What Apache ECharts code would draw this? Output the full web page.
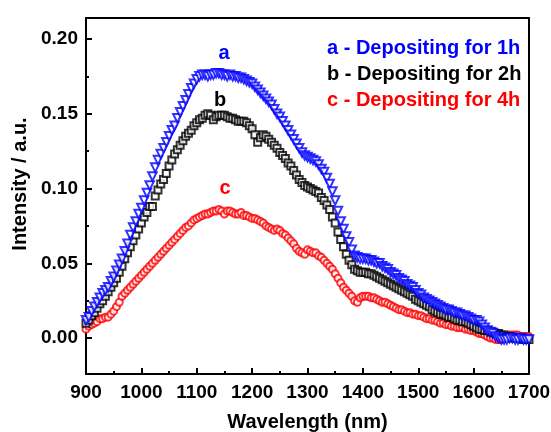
<!DOCTYPE html>
<html>
<head>
<meta charset="utf-8">
<script src="https://cdn.jsdelivr.net/npm/echarts@6/dist/echarts.min.js"></script>
<style>
  html, body { margin: 0; padding: 0; background: #fff; }
  #chart { width: 551px; height: 432px; }
</style>
</head>
<body>
<div id="chart"></div>
<script>
// wavelength (nm), one point every 5 nm
const wavelength = [
  900, 905, 910, 915, 920, 925, 930, 935, 940, 945,
  950, 955, 960, 965, 970, 975, 980, 985, 990, 995,
  1000, 1005, 1010, 1015, 1020, 1025, 1030, 1035, 1040, 1045,
  1050, 1055, 1060, 1065, 1070, 1075, 1080, 1085, 1090, 1095,
  1100, 1105, 1110, 1115, 1120, 1125, 1130, 1135, 1140, 1145,
  1150, 1155, 1160, 1165, 1170, 1175, 1180, 1185, 1190, 1195,
  1200, 1205, 1210, 1215, 1220, 1225, 1230, 1235, 1240, 1245,
  1250, 1255, 1260, 1265, 1270, 1275, 1280, 1285, 1290, 1295,
  1300, 1305, 1310, 1315, 1320, 1325, 1330, 1335, 1340, 1345,
  1350, 1355, 1360, 1365, 1370, 1375, 1380, 1385, 1390, 1395,
  1400, 1405, 1410, 1415, 1420, 1425, 1430, 1435, 1440, 1445,
  1450, 1455, 1460, 1465, 1470, 1475, 1480, 1485, 1490, 1495,
  1500, 1505, 1510, 1515, 1520, 1525, 1530, 1535, 1540, 1545,
  1550, 1555, 1560, 1565, 1570, 1575, 1580, 1585, 1590, 1595,
  1600, 1605, 1610, 1615, 1620, 1625, 1630, 1635, 1640, 1645,
  1650, 1655, 1660, 1665, 1670, 1675, 1680, 1685, 1690, 1695,
  1700
]

// a - depositing for 1h
const dep1h = [
  0.012, 0.014, 0.018, 0.021, 0.024, 0.027, 0.030, 0.032, 0.034, 0.038,
  0.041, 0.045, 0.049, 0.053, 0.058, 0.063, 0.069, 0.074, 0.078, 0.083,
  0.087, 0.092, 0.097, 0.102, 0.108, 0.114, 0.119, 0.123, 0.127, 0.131,
  0.135, 0.139, 0.142, 0.147, 0.151, 0.155, 0.159, 0.163, 0.167, 0.170,
  0.173, 0.175, 0.176, 0.176, 0.175, 0.176, 0.176, 0.177, 0.177, 0.176,
  0.176, 0.175, 0.176, 0.175, 0.175, 0.174, 0.174, 0.173, 0.172, 0.171,
  0.170, 0.168, 0.166, 0.164, 0.162, 0.160, 0.158, 0.156, 0.153, 0.150,
  0.148, 0.145, 0.142, 0.139, 0.136, 0.133, 0.130, 0.127, 0.124, 0.122,
  0.121, 0.120, 0.119, 0.118, 0.116, 0.113, 0.111, 0.107, 0.103, 0.098,
  0.092, 0.085, 0.078, 0.073, 0.068, 0.064, 0.059, 0.055, 0.054, 0.053,
  0.053, 0.053, 0.052, 0.052, 0.051, 0.050, 0.050, 0.048, 0.047, 0.046,
  0.044, 0.043, 0.042, 0.040, 0.039, 0.038, 0.036, 0.035, 0.034, 0.032,
  0.030, 0.029, 0.027, 0.026, 0.025, 0.024, 0.023, 0.022, 0.021, 0.020,
  0.019, 0.019, 0.018, 0.017, 0.017, 0.016, 0.015, 0.015, 0.014, 0.013,
  0.012, 0.012, 0.011, 0.009, 0.007, 0.005, 0.004, 0.003, 0.001, 0.000,
  -0.001, -0.001, -0.001, 0.000, 0.000, -0.001, -0.001, 0.000, -0.001, -0.001,
  -0.001
]

// b - depositing for 2h
const dep2h = [
  0.010, 0.012, 0.015, 0.017, 0.020, 0.023, 0.025, 0.028, 0.031, 0.034,
  0.037, 0.040, 0.044, 0.048, 0.053, 0.057, 0.061, 0.065, 0.069, 0.073,
  0.077, 0.081, 0.084, 0.088, 0.088, 0.095, 0.099, 0.103, 0.106, 0.110,
  0.115, 0.119, 0.123, 0.126, 0.129, 0.132, 0.135, 0.137, 0.139, 0.142,
  0.144, 0.146, 0.147, 0.149, 0.150, 0.149, 0.146, 0.148, 0.149, 0.149,
  0.149, 0.148, 0.147, 0.147, 0.146, 0.145, 0.145, 0.145, 0.144, 0.142,
  0.140, 0.136, 0.131, 0.134, 0.136, 0.135, 0.133, 0.131, 0.129, 0.127,
  0.124, 0.122, 0.120, 0.117, 0.115, 0.112, 0.109, 0.106, 0.104, 0.102,
  0.101, 0.100, 0.099, 0.098, 0.097, 0.094, 0.092, 0.089, 0.086, 0.081,
  0.077, 0.071, 0.066, 0.061, 0.056, 0.052, 0.049, 0.046, 0.045, 0.044,
  0.044, 0.044, 0.043, 0.043, 0.042, 0.041, 0.040, 0.039, 0.038, 0.037,
  0.036, 0.035, 0.034, 0.033, 0.032, 0.031, 0.030, 0.029, 0.028, 0.026,
  0.025, 0.024, 0.023, 0.022, 0.021, 0.019, 0.018, 0.017, 0.016, 0.016,
  0.015, 0.014, 0.014, 0.013, 0.012, 0.012, 0.011, 0.011, 0.010, 0.009,
  0.008, 0.007, 0.006, 0.006, 0.005, 0.005, 0.004, 0.004, 0.003, 0.003,
  0.002, 0.002, 0.001, 0.001, 0.000, 0.000, 0.000, 0.000, -0.001, -0.001,
  -0.001
]

// c - depositing for 4h
const dep4h = [
  0.006, 0.008, 0.009, 0.010, 0.011, 0.013, 0.013, 0.014, 0.014, 0.016,
  0.018, 0.021, 0.024, 0.028, 0.030, 0.032, 0.034, 0.036, 0.038, 0.040,
  0.042, 0.044, 0.046, 0.048, 0.050, 0.052, 0.054, 0.056, 0.058, 0.060,
  0.062, 0.064, 0.066, 0.068, 0.070, 0.072, 0.074, 0.075, 0.077, 0.079,
  0.080, 0.081, 0.082, 0.083, 0.083, 0.084, 0.085, 0.085, 0.086, 0.085,
  0.083, 0.085, 0.085, 0.084, 0.083, 0.083, 0.084, 0.082, 0.082, 0.081,
  0.080, 0.080, 0.079, 0.078, 0.077, 0.075, 0.074, 0.073, 0.072, 0.073,
  0.072, 0.070, 0.069, 0.067, 0.065, 0.063, 0.060, 0.058, 0.057, 0.056,
  0.059, 0.058, 0.057, 0.057, 0.055, 0.054, 0.052, 0.050, 0.048, 0.046,
  0.043, 0.040, 0.037, 0.034, 0.032, 0.030, 0.028, 0.025, 0.024, 0.027,
  0.028, 0.028, 0.028, 0.027, 0.027, 0.026, 0.025, 0.024, 0.024, 0.023,
  0.022, 0.021, 0.020, 0.019, 0.019, 0.018, 0.017, 0.017, 0.016, 0.016,
  0.015, 0.015, 0.014, 0.013, 0.013, 0.012, 0.012, 0.011, 0.010, 0.010,
  0.009, 0.009, 0.008, 0.008, 0.007, 0.007, 0.007, 0.006, 0.006, 0.005,
  0.005, 0.004, 0.003, 0.003, 0.002, 0.001, 0.000, 0.000, -0.001, -0.001,
  -0.001, 0.000, 0.001, 0.002, 0.002, 0.002, 0.002, 0.001, 0.001, 0.001,
  0.001
]

const yMajorTicks = [0, 0.05, 0.1, 0.15, 0.2]
const yMinorTicks = [0.025, 0.075, 0.125, 0.175]
const legendLines = ['a - Depositing for 1h', 'b - Depositing for 2h', 'c - Depositing for 4h']

const FONT = '"Liberation Sans", Arial, sans-serif'
const BLUE = '#0000ff'
const BLACK = '#000000'
const RED = '#ff0000'

function pairs(ys) {
  return wavelength.map((w, i) => [w, ys[i]])
}

const chart = echarts.init(document.getElementById('chart'), null, { renderer: 'canvas' })

const yBase = {
  type: 'value',
  min: -0.024,
  max: 0.214,
  splitLine: { show: false },
  axisLine: { show: true, lineStyle: { color: '#000', width: 2 } }
}

chart.setOption({
  animation: false,
  backgroundColor: '#fff',
  grid: {
    left: 86, right: 22, top: 18, bottom: 58,
    show: true, borderColor: '#000', borderWidth: 2,
    outerBoundsMode: 'none'
  },
  xAxis: {
    type: 'value',
    min: 900,
    max: 1700,
    interval: 100,
    name: 'Wavelength (nm)',
    nameLocation: 'middle',
    nameGap: 38,
    nameTextStyle: { fontFamily: FONT, fontWeight: 'bold', fontSize: 20, color: '#000' },
    axisLine: { onZero: false, lineStyle: { color: '#000', width: 2 } },
    axisTick: { inside: true, length: 6, lineStyle: { width: 2, color: '#000' } },
    minorTick: { show: true, splitNumber: 2, length: 3, lineStyle: { width: 2, color: '#000' } },
    axisLabel: {
      fontFamily: FONT, fontWeight: 'bold', fontSize: 19, color: '#000', margin: 9,
      formatter: v => String(v)
    },
    splitLine: { show: false }
  },
  yAxis: [
    Object.assign({}, yBase, {
      axisTick: { inside: true, length: 6, customValues: yMajorTicks, lineStyle: { width: 2, color: '#000' } },
      axisLabel: {
        fontFamily: FONT, fontWeight: 'bold', fontSize: 19, color: '#000', margin: 8,
        customValues: yMajorTicks,
        formatter: v => v.toFixed(2)
      }
    }),
    Object.assign({}, yBase, {
      position: 'left',
      axisTick: { inside: true, length: 3, customValues: yMinorTicks, lineStyle: { width: 2, color: '#000' } },
      axisLabel: { show: false }
    })
  ],
  graphic: [
    {
      type: 'text', x: 20, y: 184, rotation: Math.PI / 2,
      style: {
        text: 'Intensity / a.u.', fill: '#000',
        font: 'bold 20px ' + FONT, align: 'center', verticalAlign: 'middle'
      }
    },
    {
      type: 'text', x: 327, y: 48,
      style: { text: legendLines[0], fill: BLUE, font: 'bold 20px ' + FONT, verticalAlign: 'middle' }
    },
    {
      type: 'text', x: 327, y: 74,
      style: { text: legendLines[1], fill: BLACK, font: 'bold 20px ' + FONT, verticalAlign: 'middle' }
    },
    {
      type: 'text', x: 327, y: 100,
      style: { text: legendLines[2], fill: RED, font: 'bold 20px ' + FONT, verticalAlign: 'middle' }
    },
    {
      type: 'text', x: 224, y: 53,
      style: { text: 'a', fill: BLUE, font: 'bold 20px ' + FONT, align: 'center', verticalAlign: 'middle' }
    },
    {
      type: 'text', x: 220, y: 100,
      style: { text: 'b', fill: BLACK, font: 'bold 20px ' + FONT, align: 'center', verticalAlign: 'middle' }
    },
    {
      type: 'text', x: 225, y: 188,
      style: { text: 'c', fill: RED, font: 'bold 20px ' + FONT, align: 'center', verticalAlign: 'middle' }
    }
  ],
  series: [
    {
      name: 'c', type: 'scatter', data: pairs(dep4h),
      symbol: 'emptyCircle', symbolSize: 7,
      itemStyle: { color: RED, borderWidth: 1.6 }
    },
    {
      name: 'b', type: 'scatter', data: pairs(dep2h),
      symbol: 'emptyRect', symbolSize: 7,
      itemStyle: { color: BLACK, borderWidth: 1.6 }
    },
    {
      name: 'a', type: 'scatter', data: pairs(dep1h),
      symbol: 'emptyTriangle', symbolSize: 8.5, symbolRotate: 180,
      itemStyle: { color: BLUE, borderWidth: 1.6 }
    }
  ]
})
</script>
</body>
</html>
